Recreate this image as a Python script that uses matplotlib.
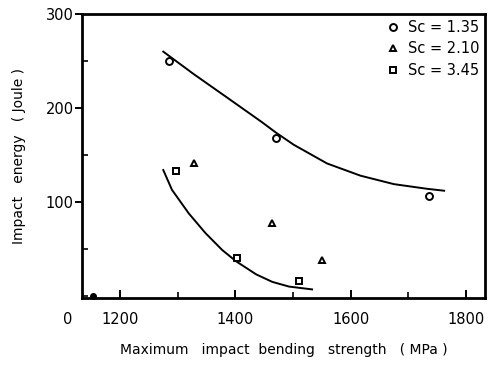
import matplotlib.pyplot as plt
from matplotlib.ticker import MultipleLocator

# measured points (MPa, Joule)
sc135_x = [1285, 1470, 1736]
sc135_y = [250, 168, 106]
sc210_x = [1329, 1463, 1550]
sc210_y = [141, 78, 38]
sc345_x = [1297, 1403, 1510]
sc345_y = [133, 40, 16]
origin_x = [1153]
origin_y = [0]

# fitted curves
upper_x = [1275, 1328, 1386, 1446, 1470, 1501, 1559, 1617, 1675, 1733, 1762]
upper_y = [260, 236, 211, 185, 174, 161, 141, 128, 119, 114, 112]
lower_x = [1275, 1290, 1319, 1348, 1377, 1401, 1436, 1464, 1493, 1533]
lower_y = [134, 113, 88, 67, 49, 37, 23, 15, 10, 7]

xticks = [1200, 1400, 1600, 1800]
yticks = [100, 200, 300]
legend_labels = ["Sc = 1.35", "Sc = 2.10", "Sc = 3.45"]

plt.rcParams["font.family"] = "DejaVu Sans"
fig = plt.figure(figsize=(4.88, 3.70), dpi=100)
ax = fig.add_axes([0.168, 0.195, 0.826, 0.767])

ax.plot(upper_x, upper_y, color="k", lw=1.4)
ax.plot(lower_x, lower_y, color="k", lw=1.4)

mk = dict(ls="none", mfc="white", mec="k", mew=1.4, ms=5)
ax.plot(sc135_x, sc135_y, marker="o", label=legend_labels[0], **mk)
ax.plot(sc210_x, sc210_y, marker="^", label=legend_labels[1], **mk)
ax.plot(sc345_x, sc345_y, marker="s", label=legend_labels[2], **mk)
ax.plot(origin_x, origin_y, marker="o", ls="none", color="k", ms=4, clip_on=False)

ax.set_xlim(1134, 1833)
ax.set_ylim(-2, 300)
ax.set_xticks(xticks)
ax.set_yticks(yticks)
ax.xaxis.set_minor_locator(MultipleLocator(100))
ax.yaxis.set_minor_locator(MultipleLocator(50))
ax.tick_params(axis="x", which="major", direction="in", length=6, width=1.4, labelsize=10.5, pad=10)
ax.tick_params(axis="x", which="minor", direction="in", length=4, width=1.2)
ax.tick_params(axis="y", which="major", direction="out", length=5, width=1.4, labelsize=10.5, pad=1)
ax.tick_params(axis="y", which="minor", direction="in", length=4, width=1.2)
for s in ax.spines.values():
    s.set_linewidth(2)

# origin label left of the axis break
ax.annotate("0", xy=(1110, 0), xycoords=("data", "axes fraction"),
            xytext=(0, -10), textcoords="offset points",
            ha="center", va="top", fontsize=10.5, annotation_clip=False)

ax.set_xlabel("Maximum   impact  bending   strength   ( MPa )", fontsize=10, labelpad=12)
ax.set_ylabel("Impact   energy   ( Joule )", fontsize=10, labelpad=14)

ax.legend(loc="upper right", frameon=False, fontsize=10.5, handlelength=0.8,
          handletextpad=0.6, labelspacing=0.45, borderaxespad=0.2, borderpad=0.2)

fig.savefig("out.png", dpi=100)
